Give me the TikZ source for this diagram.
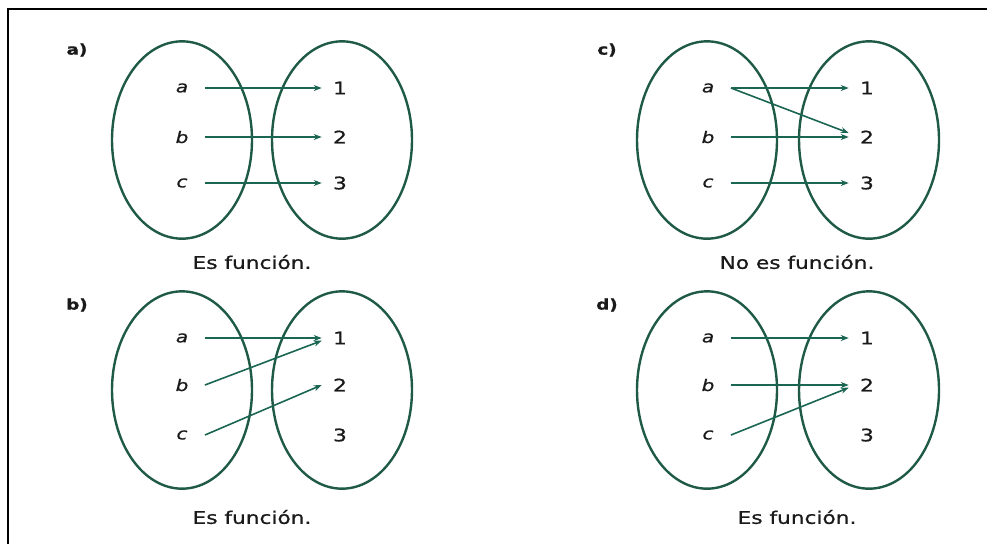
\documentclass[tikz,border=0pt]{standalone}
\usepackage{fontspec}
\setmainfont{DejaVu Sans}[FakeStretch=1.25,FakeBold=0.8]
\usetikzlibrary{arrows.meta,shapes.geometric}
\definecolor{verde}{HTML}{1F5A45}
\definecolor{flechas}{HTML}{1B6652}
\definecolor{texto}{HTML}{1A1A1A}

\begin{document}
\begin{tikzpicture}[x=0.75pt,y=-0.75pt,
      conj/.style={ellipse,draw=verde,line width=1.8pt,minimum width=105pt,
                   minimum height=148pt,inner sep=0pt},
      elem/.style={font=\fontsize{12}{14}\selectfont\itshape,text=texto,
                   minimum width=34pt,inner sep=0pt},
      num/.style={font=\fontsize{13}{15}\selectfont,text=texto,
                  minimum width=27pt,inner sep=0pt},
      etiq/.style={font=\fontsize{11}{13}\selectfont\bfseries,text=texto},
      pie/.style={font=\fontsize{13}{15}\selectfont,text=texto},
      flecha/.style={-{Stealth[length=6pt,width=4.5pt]},line width=1.2pt,flechas}]
    \useasboundingbox (0,0) rectangle (987,544);
    \draw[line width=2.2pt] (8,544) -- (8,9) -- (987,9);
    % a)
    \begin{scope}
      \node[etiq] (la) at (77,50) {a)};
      \node[conj] (Ia) at (182,140) {};
      \node[conj] (Da) at (342,140) {};
      \node[elem] (aa) at (182,88) {a};
      \node[elem] (ab) at (182,137) {b};
      \node[elem] (ac) at (182,183) {c};
      \node[num] (a1) at (340,88) {1};
      \node[num] (a2) at (340,137) {2};
      \node[num] (a3) at (340,183) {3};
      \node[pie] (pa) at (252,262) {Es función.};
      \draw[flecha] (aa) -- (a1);
      \draw[flecha] (ab) -- (a2);
      \draw[flecha] (ac) -- (a3);
    \end{scope}
    % b)
    \begin{scope}[shift={(0,250)}]
      \node[etiq] (lb) at (77,55) {b)};
      \node[conj] (Ib) at (182,140) {};
      \node[conj] (Db) at (342,140) {};
      \node[elem] (ba) at (182,88) {a};
      \node[elem] (bb) at (182,135) {b};
      \node[elem] (bc) at (182,185) {c};
      \node[num] (b1) at (340,88) {1};
      \node[num] (b2) at (340,135) {2};
      \node[num] (b3) at (340,185) {3};
      \node[pie] (pb) at (252,267) {Es función.};
      \draw[flecha] (ba.east) -- (b1.west);
      \draw[flecha] (bb.east) -- ([yshift=-2pt]b1.west);
      \draw[flecha] (bc.east) -- (b2.west);
    \end{scope}
    % c)
    \begin{scope}[shift={(525,0)}]
      \node[etiq] (lc) at (82,50) {c)};
      \node[conj] (Ic) at (182,140) {};
      \node[conj] (Dc) at (344,140) {};
      \node[elem] (ca) at (183,88) {a};
      \node[elem] (cb) at (183,137) {b};
      \node[elem] (cc) at (183,183) {c};
      \node[num] (c1) at (342,88) {1};
      \node[num] (c2) at (342,137) {2};
      \node[num] (c3) at (342,183) {3};
      \node[pie] (pc) at (272,262) {No es función.};
      \draw[flecha] (ca.east) -- (c1.west);
      \draw[flecha] (ca.east) -- ([yshift=3pt]c2.west);
      \draw[flecha] (cb.east) -- (c2.west);
      \draw[flecha] (cc.east) -- (c3.west);
    \end{scope}
    % d)
    \begin{scope}[shift={(525,250)}]
      \node[etiq] (ld) at (82,55) {d)};
      \node[conj] (Id) at (182,140) {};
      \node[conj] (Dd) at (344,140) {};
      \node[elem] (da) at (183,88) {a};
      \node[elem] (db) at (183,135) {b};
      \node[elem] (dc) at (183,185) {c};
      \node[num] (d1) at (342,88) {1};
      \node[num] (d2) at (342,135) {2};
      \node[num] (d3) at (342,185) {3};
      \node[pie] (pd) at (272,267) {Es función.};
      \draw[flecha] (da.east) -- (d1.west);
      \draw[flecha] (db.east) -- (d2.west);
      \draw[flecha] (dc.east) -- ([yshift=-2pt]d2.west);
    \end{scope}
  \end{tikzpicture}
\end{document}
